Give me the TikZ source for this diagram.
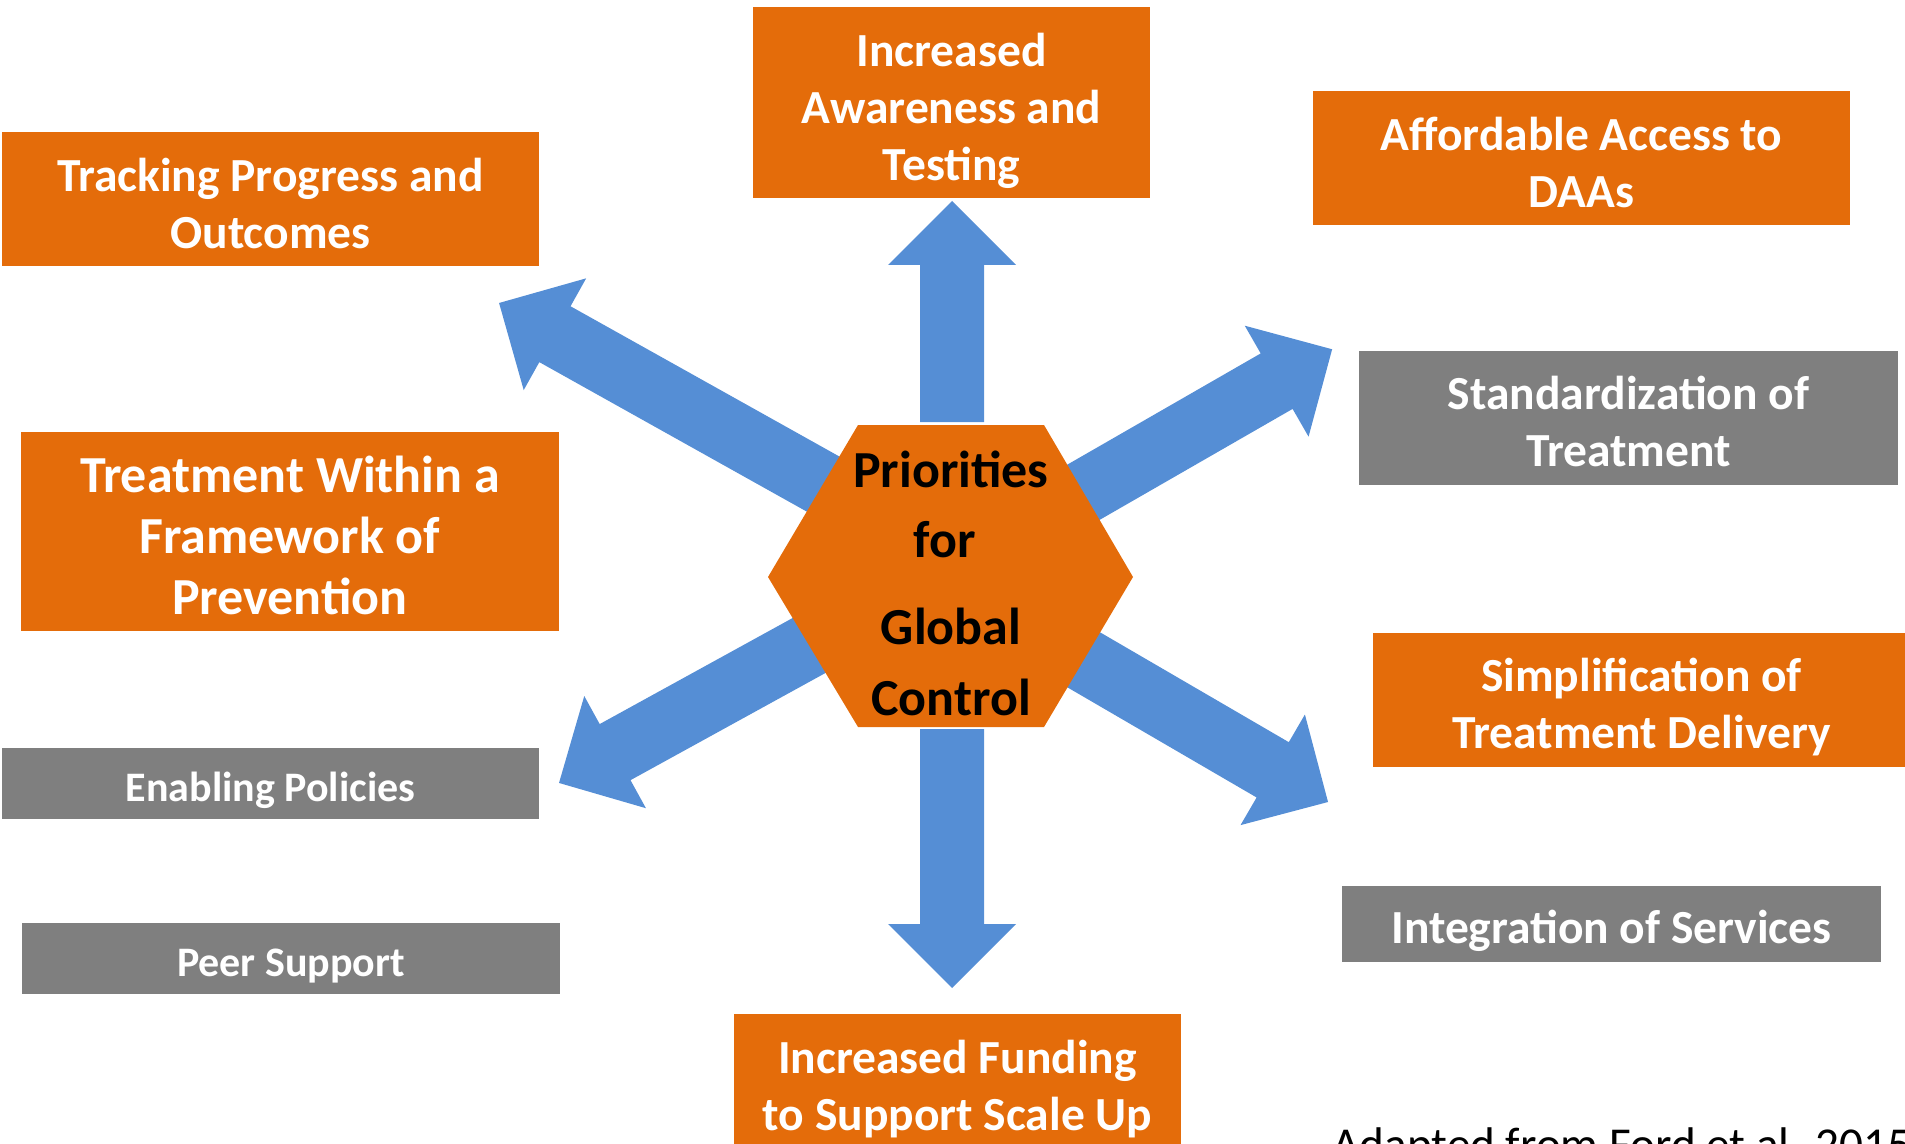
\documentclass[tikz,border=0pt]{standalone}
\usepackage{fontspec}
\setmainfont{Carlito}
\definecolor{orng}{HTML}{E46C0A}
\definecolor{arblue}{HTML}{558ED5}
\definecolor{gry}{HTML}{7F7F7F}
\newcommand\blockarrow[3]{%
  \fill[arblue, shift={(#1)}, rotate=#2] (0,-32) -- ({#3-64},-32) -- ({#3-64},-64) -- (#3,0) -- ({#3-64},64) -- ({#3-64},32) -- (0,32) -- cycle;}
\newcommand\boxtext[2]{\raisebox{#1}[\height][\depth]{\begin{tabular}{@{}c@{}}#2\end{tabular}}}
\begin{document}
\begin{tikzpicture}[x=0.5pt,y=-0.5pt,
  box/.style={rectangle, inner sep=0pt, text=white,
    font=\bfseries\fontsize{23.75}{28.5}\selectfont},
  orangebox/.style={box, fill=orng},
  graybox/.style={box, fill=gry},
  hextext/.style={anchor=base, inner sep=0pt, text=black,
    font=\bfseries\fontsize{26}{30}\selectfont}]
\useasboundingbox (0,0) rectangle (1905,1144);
\clip (0,0) rectangle (1905,1144);

% arrow tails
\coordinate (tUp) at (952,422);
\coordinate (tDown) at (952,729);
\coordinate (tUL) at (950,555);
\coordinate (tUR) at (950,569);
\coordinate (tLL) at (950,568);
\coordinate (tLR) at (950,582);

\blockarrow{tUp}{90}{221}
\blockarrow{tDown}{-90}{259}
\blockarrow{tUL}{150.8}{516.6}
\blockarrow{tUR}{29.9}{440.8}
\blockarrow{tLL}{208.8}{446.2}
\blockarrow{tLR}{-30.2}{437.4}

% hexagon
\fill[orng] (858,425) -- (1044,425) -- (1133,577) -- (1044,727) -- (858,727) -- (768,577) -- cycle;
\coordinate (hexc) at (951,576);
\node[hextext] (h1) at (951,487) {Priorities};
\node[hextext] (h2) at (945,557) {for};
\node[hextext] (h3) at (951,644) {Global};
\node[hextext] (h4) at (951,715) {Control};

% boxes
\node[orangebox, minimum width=198.5pt, minimum height=95.5pt] (aware) at (951.5,102.5) {\boxtext{-4.8pt}{Increased\\Awareness and\\Testing}};
\node[orangebox, minimum width=268.5pt, minimum height=67pt] (afford) at (1581.5,158) {\boxtext{-4.7pt}{Affordable Access to\\DAAs}};
\node[orangebox, minimum width=268.5pt, minimum height=67pt] (track) at (270.5,199) {\boxtext{-4.7pt}{Tracking Progress and\\Outcomes}};
\node[graybox, minimum width=269.5pt, minimum height=67pt] (standard) at (1628.5,418) {\boxtext{-4.4pt}{Standardization of\\Treatment}};
\node[orangebox, minimum width=269pt, minimum height=99.5pt, font=\bfseries\fontsize{26}{30.5}\selectfont] (treat) at (290,531.5) {\boxtext{-4.8pt}{Treatment Within a\\Framework of\\Prevention}};
\node[orangebox, minimum width=268.5pt, minimum height=67pt] (simpl) at (1641.5,700) {\boxtext{-4.4pt}{Simplification of\\Treatment Delivery}};
\node[graybox, minimum width=268.5pt, minimum height=35.5pt, font=\bfseries\fontsize{21}{25}\selectfont] (enabling) at (270.5,783.5) {\boxtext{-4.2pt}{Enabling Policies}};
\node[graybox, minimum width=269.5pt, minimum height=38pt] (integ) at (1611.5,924) {\boxtext{-3.8pt}{Integration of Services}};
\node[graybox, minimum width=269pt, minimum height=35.5pt, font=\bfseries\fontsize{21}{25}\selectfont] (peer) at (291,958.5) {\boxtext{-3.8pt}{Peer Support}};
\node[orangebox, minimum width=223.5pt, minimum height=67pt] (fund) at (957.5,1081) {\boxtext{-4.8pt}{Increased Funding\\to Support Scale Up}};

\node[anchor=base west, inner sep=0pt, font=\fontsize{23.6}{28}\selectfont] (credit) at (1332,1160) {Adapted from Ford et al. 2015};
\end{tikzpicture}
\end{document}
